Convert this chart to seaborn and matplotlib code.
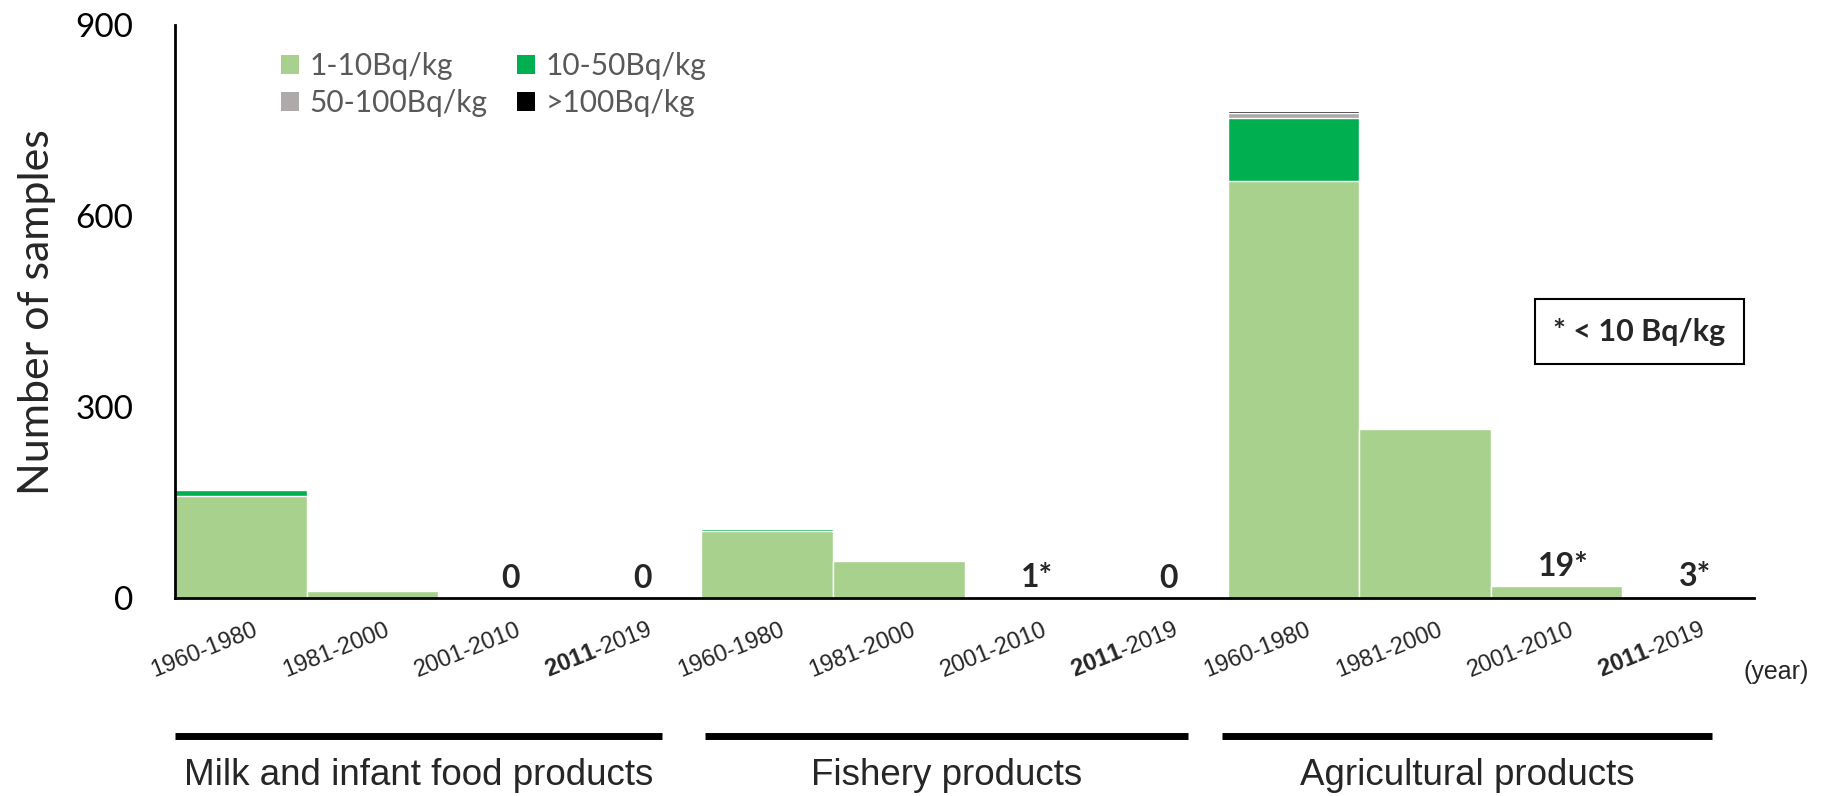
import numpy as np
import pandas as pd
import matplotlib
matplotlib.use('Agg')
import matplotlib.pyplot as plt
import matplotlib.transforms as mtransforms
import seaborn as sns

# --- data ---
groups = ['Milk and infant food products', 'Fishery products', 'Agricultural products']
periods = ['1960-1980', '1981-2000', '2001-2010', '2011-2019']
low_1_10 = [160, 10, 0, 0, 105, 58, 1, 0, 655, 265, 18, 3]
mid_10_50 = [10, 0, 0, 0, 3, 0, 0, 0, 100, 0, 0, 0]
mid_50_100 = [0, 0, 0, 0, 2, 0, 0, 0, 7, 0, 0, 0]
high_100 = [0, 0, 0, 0, 0, 0, 0, 0, 4, 0, 0, 0]
bar_labels = ['', '', '0', '0', '', '', '1*', '0', '', '', '19*', '3*']
series_names = ['1-10Bq/kg', '10-50Bq/kg', '50-100Bq/kg', '>100Bq/kg']
series_colors = ['#a9d18e', '#00b050', '#aeaaaa', '#000000']

cats = [f'{g}|{p}' for g in groups for p in periods]
df = pd.DataFrame({
    'cat': cats,
    '1-10Bq/kg': low_1_10,
    '10-50Bq/kg': mid_10_50,
    '50-100Bq/kg': mid_50_100,
    '>100Bq/kg': high_100,
})
# cumulative tops so the stack can be drawn back to front
df['top_0'] = df['1-10Bq/kg']
df['top_1'] = df['top_0'] + df['10-50Bq/kg']
df['top_2'] = df['top_1'] + df['50-100Bq/kg']
df['top_3'] = df['top_2'] + df['>100Bq/kg']

sns.set_theme(style='white')
plt.rcParams['font.family'] = ['Lato', 'DejaVu Sans']
plt.rcParams['mathtext.fontset'] = 'custom'
plt.rcParams['mathtext.rm'] = 'Liberation Sans'
plt.rcParams['mathtext.bf'] = 'Liberation Sans:bold'

fig = plt.figure(figsize=(18.24, 7.96), dpi=100)
ax = fig.add_axes([0.096, 0.249, 0.8656, 0.719])

for i in range(3, -1, -1):
    sns.barplot(data=df, x='cat', y=f'top_{i}', order=cats, color=series_colors[i],
                width=1.0, edgecolor='white', linewidth=1.0, saturation=1,
                ax=ax, label=series_names[i])

ax.set_xlim(-0.5, 11.5)
ax.set_ylim(0, 900)
ax.set_yticks([0, 300, 600, 900])
ax.tick_params(axis='y', labelsize=24, length=0, pad=30, labelcolor='black')
ax.set_ylabel('Number of samples', fontsize=31, labelpad=14)
ax.set_xlabel('')
for s in ['top', 'right']:
    ax.spines[s].set_visible(False)
ax.spines['left'].set_color('black')
ax.spines['left'].set_linewidth(2)
ax.spines['bottom'].set_color('black')
ax.spines['bottom'].set_linewidth(2)

# x tick labels: rotated, with the 2011 part in bold
tick_texts = []
for g in groups:
    for p in periods:
        if p.startswith('2011'):
            tick_texts.append(r'$\mathbf{2011}$-2019')
        else:
            tick_texts.append(p)
ax.set_xticks(range(len(cats)))
ax.set_xticklabels(tick_texts, rotation=22, ha='right', rotation_mode='anchor',
                   fontsize=17, family='Liberation Sans')
ax.tick_params(axis='x', length=0, pad=15)
offset = mtransforms.ScaledTranslation(0.12, 0, fig.dpi_scale_trans)
for lbl in ax.get_xticklabels():
    lbl.set_transform(lbl.get_transform() + offset)

ax.text(11.42, -0.13, '(year)', transform=ax.get_xaxis_transform(),
        fontsize=18, family='Liberation Sans', ha='left', va='center')

# value labels on the small bars
for i, lab in enumerate(bar_labels):
    if lab:
        ax.text(i + 0.05, df['top_3'][i] + 8, lab, ha='center', va='bottom',
                fontsize=23, fontweight='bold')

# group brackets and names under the axis
trans = ax.get_xaxis_transform()
spans = [(-0.5, 3.2), (3.53, 7.2), (7.46, 11.18)]
for (x0, x1), name in zip(spans, groups):
    ax.plot([x0, x1], [-0.242, -0.242], transform=trans, color='black',
            linewidth=5, clip_on=False, solid_capstyle='butt')
    ax.text((x0 + x1) / 2, -0.31, name, transform=trans, ha='center', va='center',
            fontsize=26.5, family='Liberation Sans')

# footnote box
ax.text(10.63, 0.465, '* < 10 Bq/kg', transform=trans, ha='center', va='center',
        fontsize=22, fontweight='bold',
        bbox=dict(boxstyle='square,pad=0.6', facecolor='white', edgecolor='black', linewidth=1.5))

handles, labels = ax.get_legend_handles_labels()
# legend fills column by column: put 1-10 / 10-50 on the first row
order = [labels.index(n) for n in ['1-10Bq/kg', '50-100Bq/kg', '10-50Bq/kg', '>100Bq/kg']]
leg = ax.legend([handles[k] for k in order], [labels[k] for k in order],
                ncol=2, loc='upper left', bbox_to_anchor=(0.05, 1.0), frameon=False,
                fontsize=21.5, handlelength=0.6, handleheight=0.6, handletextpad=0.35,
                columnspacing=1.0, labelspacing=0.3, labelcolor='#595959')
for h in leg.legend_handles:
    h.set_edgecolor('none')

fig.savefig('out.png', dpi=100)
